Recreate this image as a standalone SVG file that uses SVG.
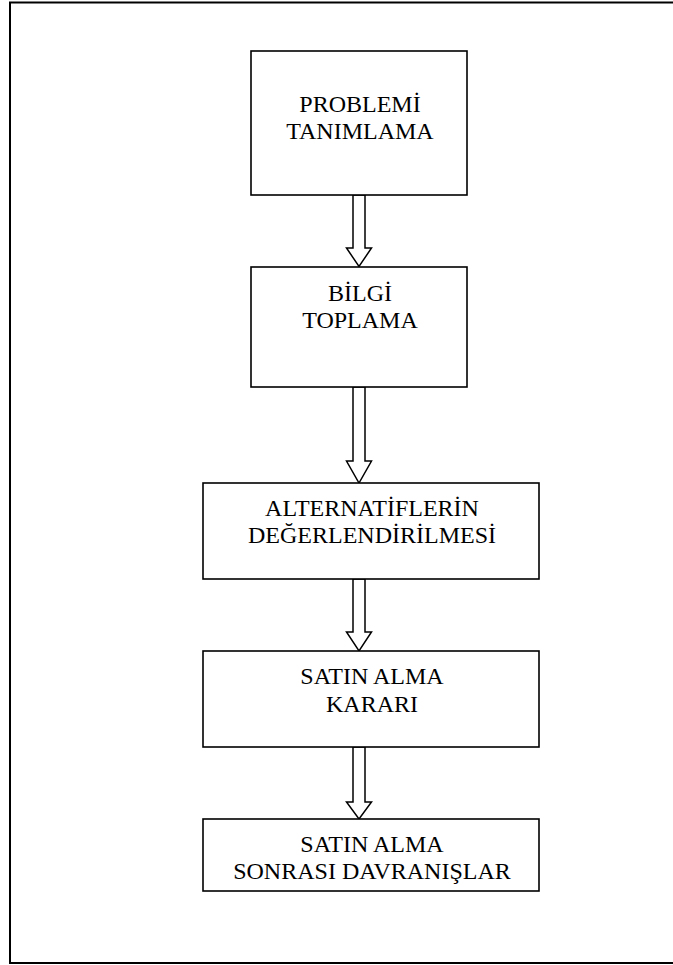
<svg xmlns="http://www.w3.org/2000/svg" width="673" height="965" viewBox="0 0 673 965">
<style>
.frame{fill:none;stroke:#000;stroke-width:2}
.box{fill:#fff;stroke:#000;stroke-width:1.6}
.arrow{fill:#fff;stroke:#000;stroke-width:1.5;stroke-linejoin:miter}
.t{font-family:"Liberation Serif","Times New Roman",serif;font-size:24px;fill:#000;text-anchor:middle}
</style>
<rect width="673" height="965" fill="#fff"/>
<rect class="frame" x="10" y="2.5" width="700" height="960.5"/>
<g id="connectors">
<polygon class="arrow" points="353,195 365,195 365,248 371.5,248 359,266.5 346.5,248 353,248"/>
<polygon class="arrow" points="353,387 365,387 365,461 371.5,461 359,483 346.5,461 353,461"/>
<polygon class="arrow" points="353,579 365,579 365,632 371.5,632 359,651 346.5,632 353,632"/>
<polygon class="arrow" points="353,747 365,747 365,802 371.5,802 359,819 346.5,802 353,802"/>
</g>
<g id="n1">
<rect class="box" x="251" y="51" width="216" height="144"/>
<text class="t" x="360" y="111.5">PROBLEMİ</text>
<text class="t" x="360" y="139">TANIMLAMA</text>
</g>
<g id="n2">
<rect class="box" x="251" y="267" width="216" height="120"/>
<text class="t" x="360" y="300.5">BİLGİ</text>
<text class="t" x="360" y="328">TOPLAMA</text>
</g>
<g id="n3">
<rect class="box" x="203" y="483" width="336" height="96"/>
<text class="t" x="372" y="516">ALTERNATİFLERİN</text>
<text class="t" x="372" y="542.5">DEĞERLENDİRİLMESİ</text>
</g>
<g id="n4">
<rect class="box" x="203" y="651" width="336" height="96"/>
<text class="t" x="372" y="684">SATIN ALMA</text>
<text class="t" x="372" y="711.5">KARARI</text>
</g>
<g id="n5">
<rect class="box" x="203" y="819" width="336" height="72"/>
<text class="t" x="372" y="852">SATIN ALMA</text>
<text class="t" x="372" y="879">SONRASI DAVRANIŞLAR</text>
</g>
</svg>
